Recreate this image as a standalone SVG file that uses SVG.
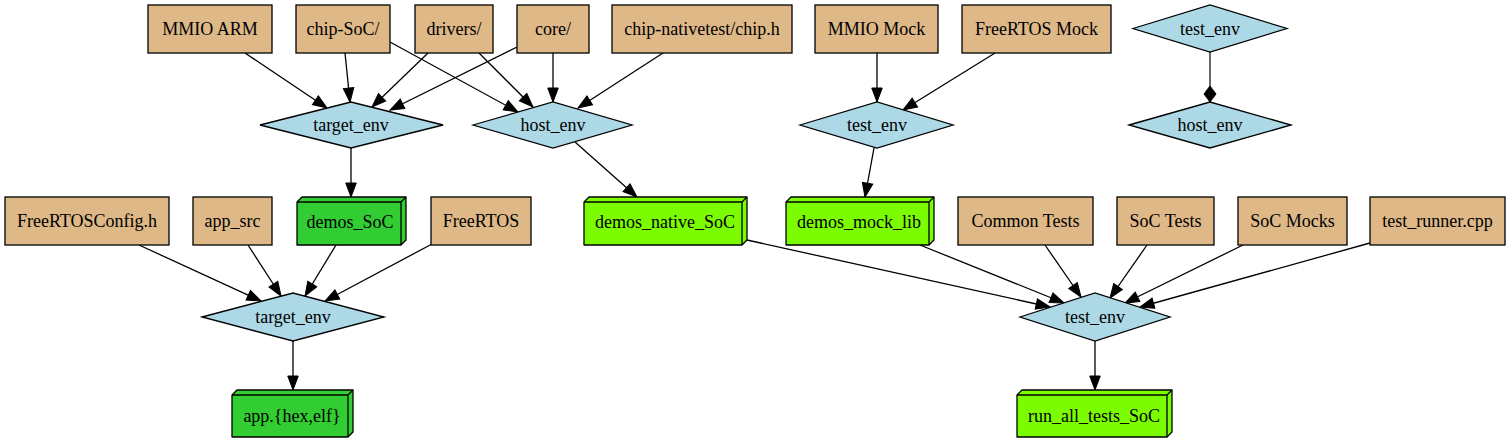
<svg xmlns="http://www.w3.org/2000/svg" width="1511" height="443" viewBox="0 0 1511 443">
<style>
text{font-family:"Liberation Serif","Times New Roman",serif;font-size:18px;fill:#000;text-anchor:middle}
.src{fill:#deb887;stroke:#000;stroke-width:1.3}
.env{fill:#add8e6;stroke:#000;stroke-width:1.3}
.lg{fill:#32cd32;stroke:#000;stroke-width:1.3;stroke-linejoin:round}
.lw{fill:#7cfc00;stroke:#000;stroke-width:1.3;stroke-linejoin:round}
.edge line{stroke:#000;stroke-width:1.3;marker-end:url(#arr)}
.edge line.dia{stroke:#444;stroke-width:1.6;marker-end:url(#dia)}
</style>
<defs>
<marker id="arr" markerUnits="userSpaceOnUse" markerWidth="16" markerHeight="12" refX="14" refY="5.25" orient="auto" overflow="visible">
<path d="M0,0 L14,5.25 L0,10.5 Z" fill="#000" stroke="#000" stroke-width="1"/>
</marker>
<marker id="dia" markerUnits="userSpaceOnUse" markerWidth="18" markerHeight="14" refX="16" refY="6" orient="auto" overflow="visible">
<path d="M0,6 L8,0 L16,6 L8,12 Z" fill="#000" stroke="#000" stroke-width="1"/>
</marker>
</defs>
<rect width="1511" height="443" fill="#fff"/>

<g id="connectors" class="edge">
<line x1="245" y1="53" x2="327" y2="108"/>
<line x1="345" y1="53" x2="350" y2="102"/>
<line x1="428" y1="53" x2="372" y2="107"/>
<line x1="517" y1="47" x2="390" y2="110"/>
<line x1="390" y1="42" x2="518" y2="112"/>
<line x1="479" y1="53" x2="533" y2="107"/>
<line x1="553" y1="53" x2="553" y2="102"/>
<line x1="663" y1="53" x2="578" y2="108"/>
<line x1="351" y1="148" x2="351" y2="197"/>
<line x1="575" y1="142" x2="637" y2="197"/>
<line x1="877" y1="53" x2="877" y2="102"/>
<line x1="995" y1="53" x2="903" y2="110"/>
<line x1="874" y1="148" x2="865" y2="197"/>
<line class="dia" x1="1210" y1="52" x2="1210" y2="102"/>
<line x1="139" y1="245" x2="261" y2="301"/>
<line x1="248" y1="245" x2="281" y2="296"/>
<line x1="336" y1="245" x2="305" y2="296"/>
<line x1="432" y1="244" x2="325" y2="301"/>
<line x1="293" y1="341" x2="293" y2="390"/>
<line x1="747" y1="240" x2="1050" y2="307"/>
<line x1="920" y1="245" x2="1064" y2="303"/>
<line x1="1045" y1="245" x2="1081" y2="297"/>
<line x1="1147" y1="245" x2="1110" y2="298"/>
<line x1="1243" y1="245" x2="1125" y2="303"/>
<line x1="1370" y1="243" x2="1140" y2="307"/>
<line x1="1095" y1="341" x2="1095" y2="390"/>
</g>

<g id="mmio_arm"><rect class="src" x="148" y="5" width="124" height="48"/><text x="210" y="35">MMIO ARM</text></g>
<g id="chip_soc"><rect class="src" x="296" y="5" width="94" height="48"/><text x="343" y="35">chip-SoC/</text></g>
<g id="drivers"><rect class="src" x="415" y="5" width="78" height="48"/><text x="454" y="35">drivers/</text></g>
<g id="core"><rect class="src" x="517" y="5" width="72" height="48"/><text x="553" y="35">core/</text></g>
<g id="chip_nativetest"><rect class="src" x="612" y="5" width="180" height="48"/><text x="702" y="35">chip-nativetest/chip.h</text></g>
<g id="mmio_mock"><rect class="src" x="815" y="5" width="123" height="48"/><text x="876.5" y="35">MMIO Mock</text></g>
<g id="freertos_mock"><rect class="src" x="962" y="5" width="149" height="48"/><text x="1036.5" y="35">FreeRTOS Mock</text></g>

<g id="target_env_1"><polygon class="env" points="260,125 351,102 443,125 351,148"/><text x="351" y="131">target_env</text></g>
<g id="host_env_1"><polygon class="env" points="473,125 553,102 632,125 553,148"/><text x="553" y="131">host_env</text></g>
<g id="test_env_1"><polygon class="env" points="800,125 877,102 953,125 877,148"/><text x="877" y="131">test_env</text></g>
<g id="test_env_legend"><polygon class="env" points="1133,28.5 1210,5 1287,28.5 1210,52"/><text x="1210" y="35">test_env</text></g>
<g id="host_env_legend"><polygon class="env" points="1129,125 1210,102 1291,125 1210,148"/><text x="1210" y="131">host_env</text></g>

<g id="freertosconfig"><rect class="src" x="5" y="197" width="164" height="48"/><text x="87" y="227">FreeRTOSConfig.h</text></g>
<g id="app_src"><rect class="src" x="193" y="197" width="79" height="48"/><text x="232.5" y="227">app_src</text></g>
<g id="demos_soc"><path class="lg" d="M297,202 L302,197 L406,197 L406,240 L401,245 L297,245 Z"/><path class="lg" d="M297,202 L401,202 L401,245 M401,202 L406,197" style="fill:none"/><text x="350" y="228">demos_SoC</text></g>
<g id="freertos"><rect class="src" x="431" y="197" width="100" height="48"/><text x="481" y="227">FreeRTOS</text></g>
<g id="demos_native_soc"><path class="lw" d="M584,202 L589,197 L747,197 L747,240 L742,245 L584,245 Z"/><path class="lw" d="M584,202 L742,202 L742,245 M742,202 L747,197" style="fill:none"/><text x="665" y="228">demos_native_SoC</text></g>
<g id="demos_mock_lib"><path class="lw" d="M786,202 L791,197 L934,197 L934,240 L929,245 L786,245 Z"/><path class="lw" d="M786,202 L929,202 L929,245 M929,202 L934,197" style="fill:none"/><text x="859" y="228">demos_mock_lib</text></g>
<g id="common_tests"><rect class="src" x="958" y="197" width="135" height="48"/><text x="1025.5" y="227">Common Tests</text></g>
<g id="soc_tests"><rect class="src" x="1117" y="197" width="97" height="48"/><text x="1165.5" y="227">SoC Tests</text></g>
<g id="soc_mocks"><rect class="src" x="1238" y="197" width="109" height="48"/><text x="1292.5" y="227">SoC Mocks</text></g>
<g id="test_runner"><rect class="src" x="1370" y="197" width="135" height="48"/><text x="1437.5" y="227">test_runner.cpp</text></g>

<g id="target_env_2"><polygon class="env" points="202,317 293,293 384,317 293,341"/><text x="293" y="323">target_env</text></g>
<g id="test_env_2"><polygon class="env" points="1020,317 1095,293 1170,317 1095,341"/><text x="1095" y="323">test_env</text></g>

<g id="app_hex_elf"><path class="lg" d="M232,395 L237,390 L353,390 L353,432 L348,437 L232,437 Z"/><path class="lg" d="M232,395 L348,395 L348,437 M348,395 L353,390" style="fill:none"/><text x="292" y="422">app.{hex,elf}</text></g>
<g id="run_all_tests_soc"><path class="lw" d="M1017,395 L1022,390 L1172,390 L1172,432 L1167,437 L1017,437 Z"/><path class="lw" d="M1017,395 L1167,395 L1167,437 M1167,395 L1172,390" style="fill:none"/><text x="1094" y="422">run_all_tests_SoC</text></g>
</svg>
